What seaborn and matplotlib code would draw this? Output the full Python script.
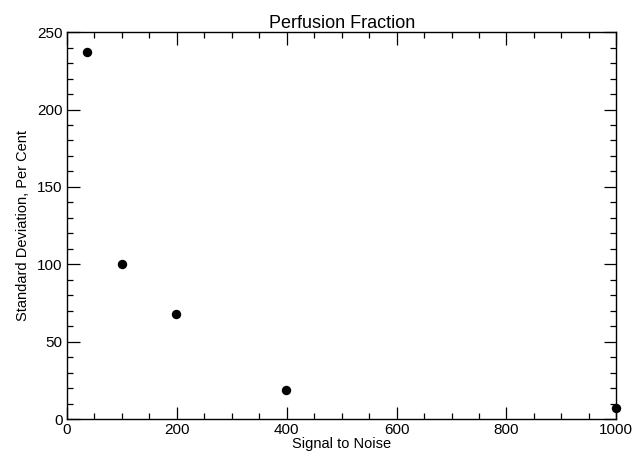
import matplotlib
matplotlib.use("Agg")
import matplotlib.pyplot as plt
import seaborn as sns
from matplotlib.ticker import MultipleLocator

# values
snr = [36, 100, 198, 398, 1000]
std_pct = [237, 100, 68, 19, 7]

sns.set_theme(style="ticks")
plt.rcParams["font.family"] = ["Liberation Sans", "DejaVu Sans"]

fig = plt.figure(figsize=(6.44, 4.59), dpi=100)
ax = fig.add_axes([0.104, 0.087, 0.853, 0.843])

sns.scatterplot(x=snr, y=std_pct, ax=ax, color="black", s=46,
                edgecolor="black", linewidth=0, clip_on=False, zorder=3)

ax.set_xlim(0, 1000)
ax.set_ylim(0, 250)
ax.xaxis.set_major_locator(MultipleLocator(200))
ax.xaxis.set_minor_locator(MultipleLocator(50))
ax.yaxis.set_major_locator(MultipleLocator(50))
ax.yaxis.set_minor_locator(MultipleLocator(10))
ax.tick_params(which="both", direction="in", top=True, right=True,
               colors="black", labelsize=11, width=0.9)
ax.tick_params(which="major", length=9, pad=3)
ax.tick_params(which="minor", length=4.5)
for sp in ax.spines.values():
    sp.set_color("black")
    sp.set_linewidth(1.0)

ax.set_title("Perfusion Fraction", fontsize=13, color="black", pad=3)
ax.set_xlabel("Signal to Noise", fontsize=10.5, color="black", labelpad=0)
ax.set_ylabel("Standard Deviation, Per Cent", fontsize=10.5, color="black", labelpad=5)

fig.savefig("out.png", dpi=100)
